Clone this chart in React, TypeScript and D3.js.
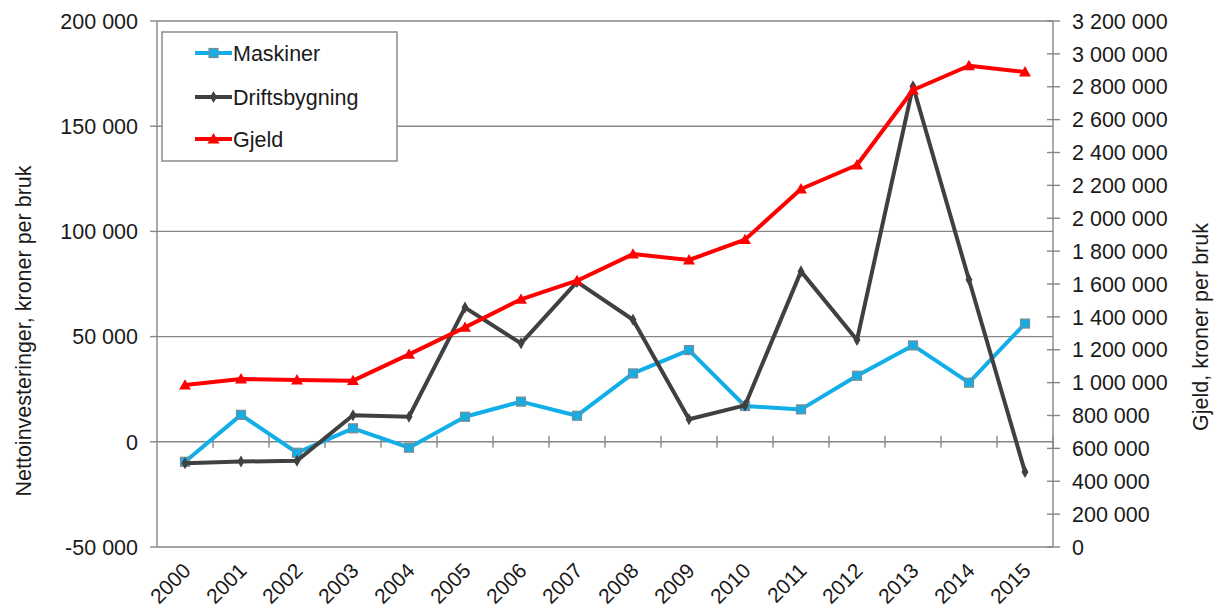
import React from "react";
import * as d3 from "d3";

const years = ["2000","2001","2002","2003","2004","2005","2006","2007","2008","2009","2010","2011","2012","2013","2014","2015"];
const maskiner = [-9500, 12800, -5200, 6400, -2800, 11900, 19100, 12400, 32500, 43600, 17000, 15400, 31400, 45800, 28100, 56200];
const driftsbygning = [-10200, -9400, -9000, 12600, 11900, 63800, 46800, 76000, 58000, 10700, 17300, 81000, 48400, 169000, 77000, -14300];
const gjeld = [985000, 1022000, 1016000, 1012000, 1172000, 1336000, 1507000, 1620000, 1782000, 1746000, 1870000, 2178000, 2324000, 2780000, 2928000, 2890000];
const leftTicks = [-50000, 0, 50000, 100000, 150000, 200000];
const rightTicks = [0, 200000, 400000, 600000, 800000, 1000000, 1200000, 1400000, 1600000, 1800000, 2000000, 2200000, 2400000, 2600000, 2800000, 3000000, 3200000];
const seriesNames = ["Maskiner", "Driftsbygning", "Gjeld"];

const FONT = "'Liberation Sans', Arial, sans-serif";
const TXT = "#1a1a1a";
const GRID = "#868686";
const BLUE = "#12aee8";
const DARK = "#404040";
const RED = "#ff0000";

const locale = d3.formatLocale({ decimal: ",", thousands: " ", grouping: [3], currency: ["", " kr"], minus: "-" });
const fmt = locale.format(",.0f");

export default function App() {
  const L = 157, R = 1053, T = 21, B = 547;
  const x = d3.scaleBand<string>().domain(years).range([L, R]);
  const cx = (i: number) => (x(years[i]) as number) + x.bandwidth() / 2;
  const yL = d3.scaleLinear().domain([-50000, 200000]).range([B, T]);
  const yR = d3.scaleLinear().domain([0, 3200000]).range([B, T]);

  const lineL = d3.line<number>().x((_, i) => cx(i)).y((d) => yL(d));
  const lineR = d3.line<number>().x((_, i) => cx(i)).y((d) => yR(d));
  const diamond = d3.symbol().type(d3.symbolDiamond).size(42)() as string;
  const triangle = d3.symbol().type(d3.symbolTriangle).size(62)() as string;

  const y0 = yL(0);
  const legendRows = [53, 97, 139];

  const marker = (k: number, px: number, py: number, key: string) => {
    if (k === 0)
      return <rect key={key} x={px - 4.5} y={py - 4.5} width={9} height={9} fill={BLUE} stroke="#7f8a90" strokeWidth={1.2} />;
    if (k === 1) return <path key={key} d={diamond} transform={`translate(${px},${py})`} fill={DARK} />;
    return <path key={key} d={triangle} transform={`translate(${px},${py + 1})`} fill={RED} />;
  };

  return (
    <svg width={1220} height={612} style={{ position: "absolute", left: 0, top: 0, background: "#fff" }} fontFamily={FONT}>
      <rect x={0} y={0} width={1220} height={612} fill="#fff" />
      {/* gridlines */}
      {leftTicks.map((t) => (
        <line key={"g" + t} x1={L} x2={R} y1={yL(t)} y2={yL(t)} stroke={GRID} strokeWidth={1.4} />
      ))}
      {/* left axis */}
      <line x1={L} x2={L} y1={T} y2={B} stroke={GRID} strokeWidth={1.4} />
      {leftTicks.map((t) => (
        <g key={"l" + t}>
          <line x1={L - 7} x2={L} y1={yL(t)} y2={yL(t)} stroke={GRID} strokeWidth={1.4} />
          <text x={138} y={yL(t)} dy="0.36em" textAnchor="end" fontSize={21.5} fill={TXT}>{fmt(t)}</text>
        </g>
      ))}
      {/* right axis */}
      <line x1={R} x2={R} y1={T} y2={B} stroke={GRID} strokeWidth={1.4} />
      {rightTicks.map((t) => (
        <g key={"r" + t}>
          <line x1={R - 6} x2={R + 7} y1={yR(t)} y2={yR(t)} stroke={GRID} strokeWidth={1.4} />
          <text x={1072} y={yR(t)} dy="0.36em" textAnchor="start" fontSize={21.5} fill={TXT}>{fmt(t)}</text>
        </g>
      ))}
      {/* category ticks on zero line */}
      {years.map((yr) => (
        <line key={"c" + yr} x1={(x(yr) as number) + x.bandwidth()} x2={(x(yr) as number) + x.bandwidth()} y1={y0 - 6} y2={y0 + 6} stroke={GRID} strokeWidth={1.4} />
      ))}
      {/* x labels */}
      {years.map((yr, i) => (
        <text key={"x" + yr} transform={`translate(${cx(i) + 7},${572}) rotate(-45)`} textAnchor="end" fontSize={21} fill={TXT}>{yr}</text>
      ))}
      {/* series */}
      <path d={lineL(maskiner) as string} fill="none" stroke={BLUE} strokeWidth={4} strokeLinejoin="round" />
      {maskiner.map((v, i) => marker(0, cx(i), yL(v), "m" + i))}
      <path d={lineL(driftsbygning) as string} fill="none" stroke={DARK} strokeWidth={4} strokeLinejoin="round" />
      {driftsbygning.map((v, i) => marker(1, cx(i), yL(v), "d" + i))}
      <path d={lineR(gjeld) as string} fill="none" stroke={RED} strokeWidth={4} strokeLinejoin="round" />
      {gjeld.map((v, i) => marker(2, cx(i), yR(v), "j" + i))}
      {/* legend */}
      <rect x={162} y={32} width={235} height={129} fill="#fff" stroke="#8a8a8a" strokeWidth={1.5} />
      {seriesNames.map((name, k) => (
        <g key={name}>
          <line x1={195} x2={232} y1={legendRows[k]} y2={legendRows[k]} stroke={[BLUE, DARK, RED][k]} strokeWidth={4} />
          {marker(k, 213.5, legendRows[k], "lm" + k)}
          <text x={233} y={legendRows[k]} dy="0.36em" fontSize={21.5} fill={TXT}>{name}</text>
        </g>
      ))}
      {/* axis titles */}
      <text transform={`translate(31,331) rotate(-90)`} textAnchor="middle" fontSize={21.5} fill={TXT}>Nettoinvesteringer, kroner per bruk</text>
      <text transform={`translate(1208,327) rotate(-90)`} textAnchor="middle" fontSize={21.5} fill={TXT}>Gjeld, kroner per bruk</text>
    </svg>
  );
}
